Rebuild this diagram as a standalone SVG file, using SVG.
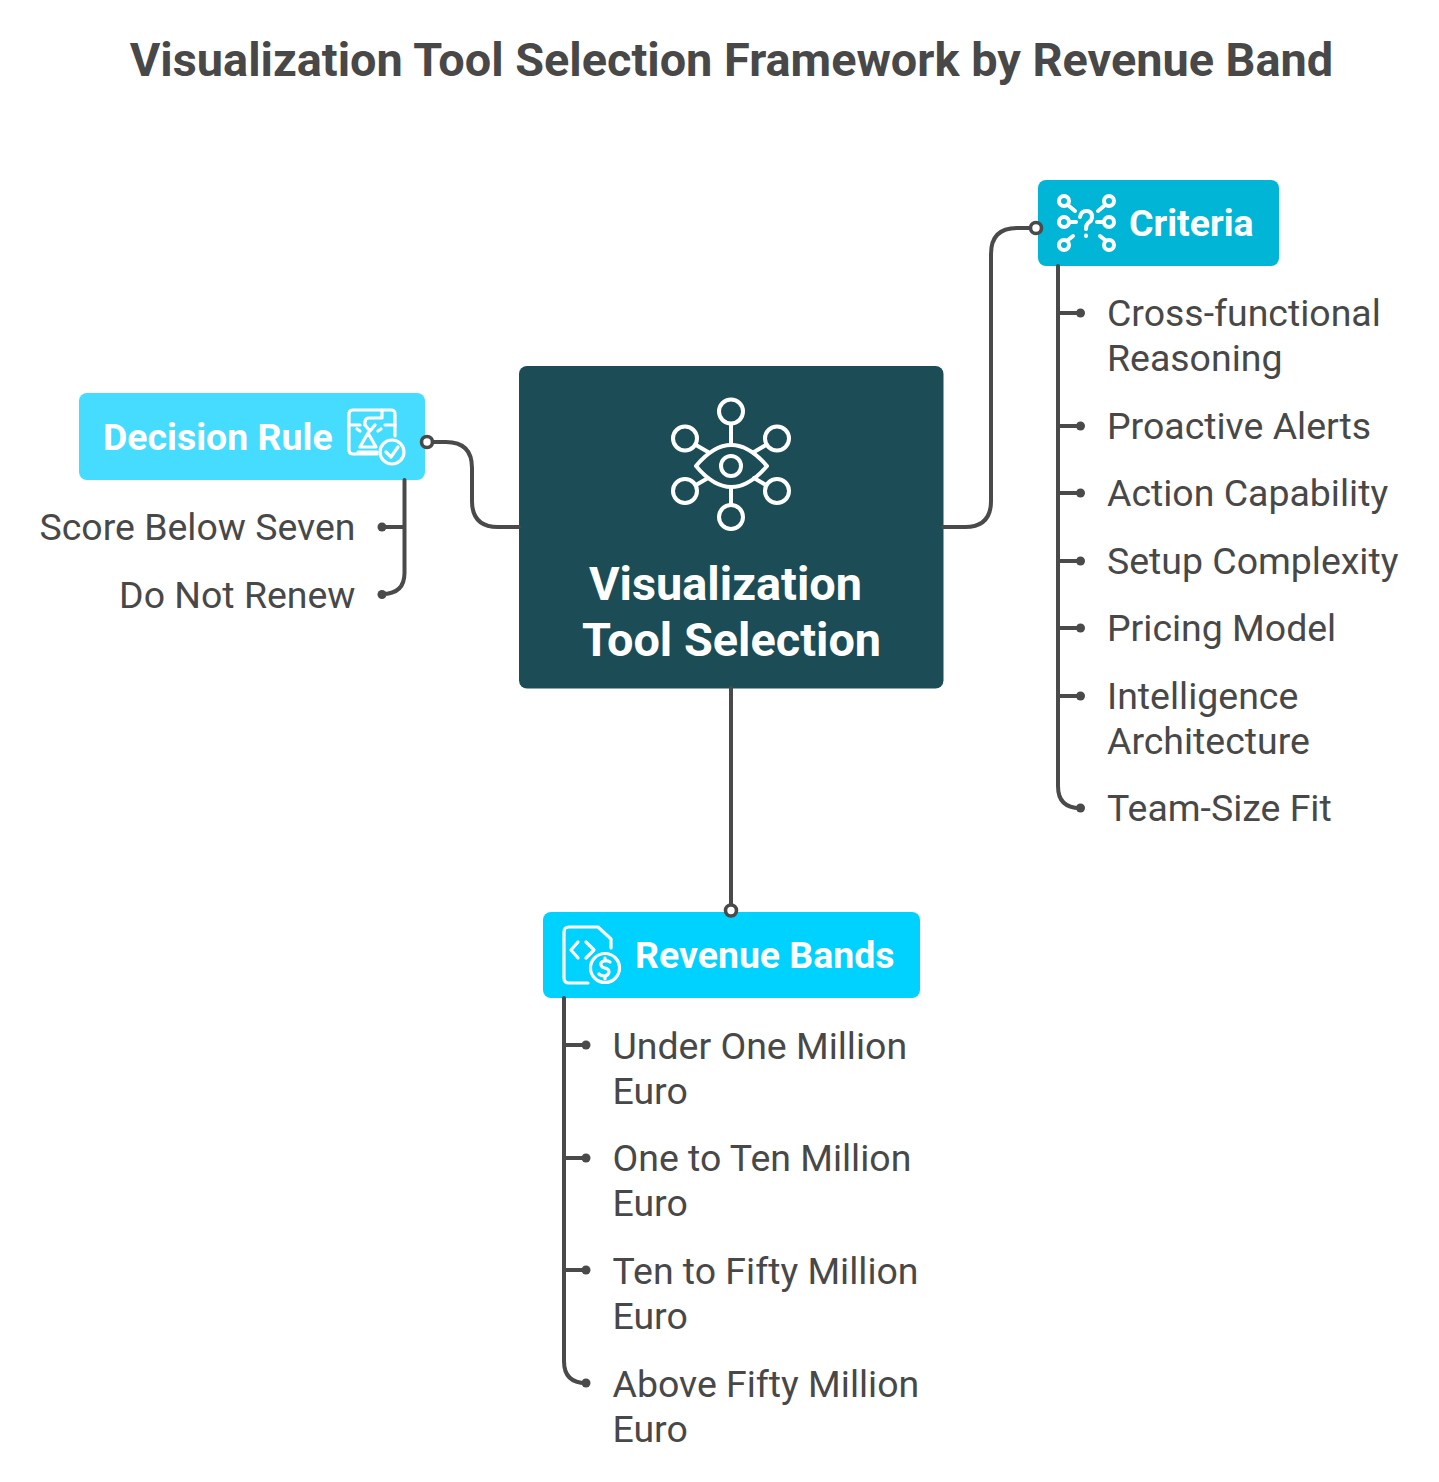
<svg xmlns="http://www.w3.org/2000/svg" width="1439" height="1482" viewBox="0 0 1439 1482">
<style>
text{font-family:Roboto,"Liberation Sans",sans-serif}
.t{font-size:46.85px;font-weight:700;fill:#484848}
.h{font-size:37.45px;font-weight:700;fill:#fff}
.c{font-size:46.85px;font-weight:700;fill:#fff}
.l{font-size:37.45px;fill:#484848}
.e{text-anchor:end}
.w{fill:none;stroke:#4a4a4a;stroke-width:4;stroke-linecap:round}
.d{fill:#4a4a4a}
.o{fill:#fff;stroke:#4a4a4a;stroke-width:3.6}
.i{fill:none;stroke:#fff;stroke-width:3.2;stroke-linecap:round;stroke-linejoin:round}
.i2{fill:none;stroke:#fff;stroke-width:4;stroke-linecap:round;stroke-linejoin:round}
</style>
<rect width="1439" height="1482" fill="#fff"/>
<text class="t" x="731.5" y="76" text-anchor="middle">Visualization Tool Selection Framework by Revenue Band</text>
<g id="center">
<rect x="519" y="366" width="424.500" height="322.500" rx="8" fill="#1c4c56"/>
<g class="i2">
<circle cx="731" cy="411.500" r="12"/><circle cx="685" cy="438.500" r="12"/><circle cx="777" cy="438.500" r="12"/><circle cx="685" cy="491" r="12"/><circle cx="777" cy="491" r="12"/><circle cx="731" cy="517" r="12"/>
<circle cx="731" cy="466" r="10"/>
<path d="M696 466Q731 424 767 466Q731 508 696 466Z"/>
<path d="M731 424V443M731 489V505M696 445L708 452M766 445L754 452M696 485L708 478M766 485L754 478"/>
</g>
<text class="c" x="725.500" y="600" text-anchor="middle">Visualization</text>
<text class="c" x="731.500" y="656" text-anchor="middle">Tool Selection</text>
</g>
<g id="decision-rule">
<rect x="79" y="393" width="346" height="87" rx="8" fill="#45dcff"/>
<text class="h" x="103" y="450">Decision Rule</text>
<g class="i">
<path d="M377 454H353Q349 454 349 450V414Q349 410 353 410H391Q395 410 395 414V436"/>
<path d="M349 425H360M385 425H395M382 410V418H369Q365 418 365 422V425"/>
<path d="M365 425L370 431L375 425M368 433L360 447H376ZM358 452H377M360 431L357 429M378 431L381 429"/>
<circle cx="392" cy="452" r="12"/><path d="M386 452L391 457L398 447"/>
</g>
<text class="l e" x="355.500" y="540">Score Below Seven</text>
<text class="l e" x="355.500" y="608">Do Not Renew</text>
</g>
<g id="criteria">
<rect x="1038" y="180" width="241" height="86" rx="8" fill="#00b5d5"/>
<g class="i2">
<circle cx="1064" cy="201" r="5"/><circle cx="1109" cy="201" r="5"/><circle cx="1064" cy="222" r="5"/><circle cx="1109" cy="222" r="5"/><circle cx="1064" cy="245" r="5"/><circle cx="1109" cy="245" r="5"/>
<path d="M1069 206L1075 211M1104 206L1098 211M1070 222H1076M1097 222H1103M1068 240L1073 236M1105 240L1100 236"/>
<path d="M1080 217Q1081 211 1086.500 211Q1092 211 1092 217Q1092 221 1088 223Q1086 225 1086 229M1086 235.500V236"/>
</g>
<text class="h" x="1129" y="236">Criteria</text>
<text class="l" x="1107" y="326">Cross-functional</text>
<text class="l" x="1107" y="371">Reasoning</text>
<text class="l" x="1107" y="439">Proactive Alerts</text>
<text class="l" x="1107" y="506">Action Capability</text>
<text class="l" x="1107" y="574">Setup Complexity</text>
<text class="l" x="1107" y="641">Pricing Model</text>
<text class="l" x="1107" y="709">Intelligence</text>
<text class="l" x="1107" y="754">Architecture</text>
<text class="l" x="1107" y="821">Team-Size Fit</text>
</g>
<g id="revenue-bands">
<rect x="543" y="912" width="377" height="86" rx="8" fill="#00d2ff"/>
<g class="i">
<path d="M588 983H569Q564 983 564 978V932Q564 927 569 927H598L611 939V948"/>
<path d="M578 942L571 950L578 958M586 942L594 950L586 958"/>
<circle cx="605" cy="968" r="14.500"/>
<path d="M610 962Q607 960 604 961Q600 962 601 965Q602 968 605 968Q609 969 609 972Q608 976 604 976Q601 976 599 974M605 958V961M605 976V979"/>
</g>
<text class="h" x="635" y="968">Revenue Bands</text>
<text class="l" x="612.500" y="1059">Under One Million</text>
<text class="l" x="612.500" y="1104">Euro</text>
<text class="l" x="612.500" y="1171">One to Ten Million</text>
<text class="l" x="612.500" y="1216">Euro</text>
<text class="l" x="612.500" y="1284">Ten to Fifty Million</text>
<text class="l" x="612.500" y="1329">Euro</text>
<text class="l" x="612.500" y="1397">Above Fifty Million</text>
<text class="l" x="612.500" y="1442">Euro</text>
</g>
<g id="connectors">
<path class="w" d="M427 442H446Q472 442 472 468V501Q472 527 498 527H519"/>
<path class="w" d="M943 527H965Q991 527 991 501V254Q991 228 1017 228H1036"/>
<path class="w" d="M731 688V910"/>
<path class="w" d="M404.500 480V573Q404.500 594 382 594M404.500 527H382"/>
<path class="w" d="M1058 266V786Q1058 808 1080 808M1058 313H1080M1058 426H1080M1058 493H1080M1058 561H1080M1058 628H1080M1058 696H1080"/>
<path class="w" d="M564 998V1361Q564 1383 586 1383M564 1045H586M564 1158H586M564 1270H586"/>
<circle class="o" cx="427" cy="442" r="5.500"/><circle class="o" cx="1036" cy="228" r="5.500"/><circle class="o" cx="731" cy="910.500" r="5.500"/>
<g class="d"><circle cx="382" cy="527" r="4.500"/><circle cx="382" cy="594.500" r="4.500"/>
<circle cx="1080.500" cy="313" r="4.500"/><circle cx="1080.500" cy="426" r="4.500"/><circle cx="1080.500" cy="493" r="4.500"/><circle cx="1080.500" cy="561" r="4.500"/><circle cx="1080.500" cy="628" r="4.500"/><circle cx="1080.500" cy="696" r="4.500"/><circle cx="1080.500" cy="808" r="4.500"/>
<circle cx="586" cy="1045" r="4.500"/><circle cx="586" cy="1158" r="4.500"/><circle cx="586" cy="1270" r="4.500"/><circle cx="586" cy="1383" r="4.500"/></g>
</g>
</svg>
